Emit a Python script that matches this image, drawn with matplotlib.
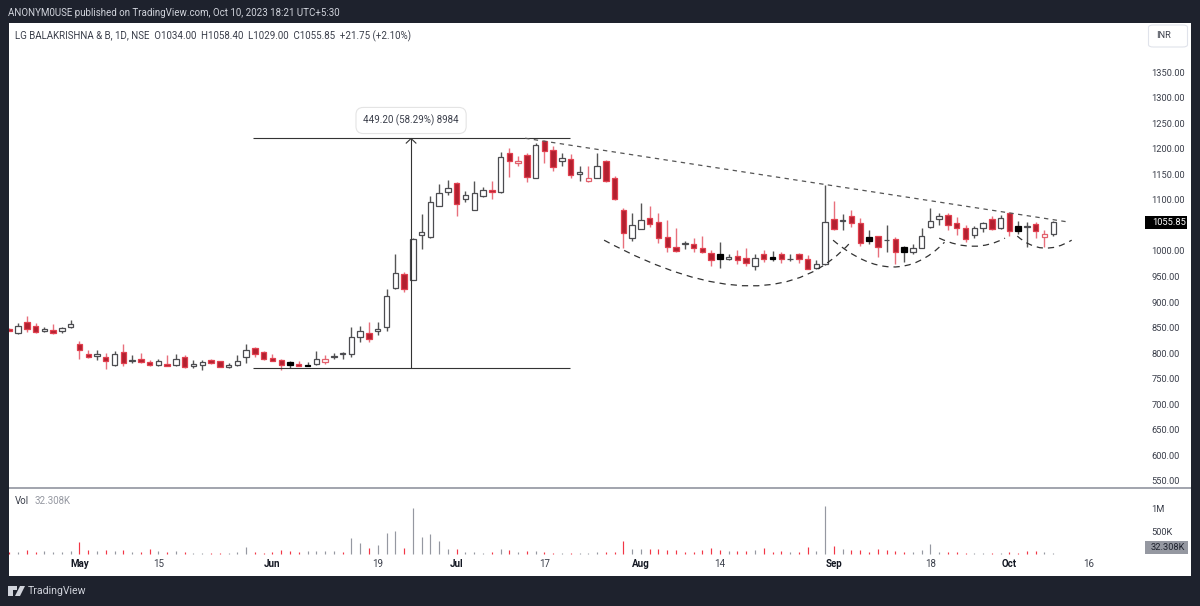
import matplotlib
matplotlib.use("Agg")
import matplotlib.pyplot as plt
from matplotlib.patches import FancyBboxPatch, PathPatch, Rectangle, Polygon
from matplotlib.path import Path

plt.rcParams['font.family'] = ['Roboto', 'DejaVu Sans']

# one row per 10 sessions, last session is 10 Oct 2023
opens = [848, 839, 860, 854, 844, 845, 843, 851, 818, 798,
         795, 792, 776, 802, 785, 789, 783, 776, 778, 777,
         792, 775, 776, 786, 784, 772, 777, 793, 810, 802,
         790, 787, 782, 778, 777, 778, 783, 792, 798, 799,
         832, 840, 844, 851, 927, 954, 944, 1032, 1027, 1088,
         1115, 1132, 1101, 1081, 1107, 1119, 1115, 1191, 1173, 1187,
         1143, 1216, 1197, 1175, 1180, 1150, 1136, 1143, 1176, 1143,
         1081, 1025, 1043, 1065, 1057, 1028, 1008, 1013, 1014, 1006,
         995, 994, 985, 991, 986, 970, 993, 989, 994, 984,
         994, 984, 967, 974, 1062, 1059, 1069, 1055, 1027, 1029,
         1021, 1023, 1007, 997, 1006, 1046, 1062, 1070, 1054, 1044,
         1032, 1044, 1062, 1044, 1075, 1049, 1047, 1053, 1027, 1034]
highs = [849, 858, 873, 858, 852, 857, 852, 864, 823, 807,
         807, 800, 804, 817, 796, 800, 787, 789, 797, 798,
         796, 787, 787, 788, 785, 780, 796, 817, 812, 805,
         798, 789, 784, 784, 783, 804, 796, 800, 803, 851,
         853, 861, 861, 925, 994, 959, 1025, 1072, 1107, 1131,
         1138, 1135, 1117, 1137, 1126, 1137, 1193, 1201, 1186, 1192,
         1212, 1218, 1206, 1192, 1189, 1166, 1167, 1192, 1178, 1147,
         1083, 1075, 1093, 1088, 1074, 1060, 1044, 1020, 1025, 1029,
         1002, 1017, 993, 1002, 1005, 994, 1002, 1000, 998, 994,
         995, 992, 982, 1129, 1098, 1072, 1080, 1064, 1041, 1030,
         1051, 1027, 1010, 1014, 1044, 1084, 1074, 1075, 1067, 1051,
         1049, 1057, 1068, 1070, 1076, 1058, 1056, 1057, 1040, 1058.4]
lows = [843, 837, 841, 840, 841, 837, 840, 850, 788, 791,
        787, 768, 775, 775, 781, 781, 775, 775, 774, 775,
        770, 771, 767, 779, 772, 771, 774, 781, 792, 787,
        784, 766, 771, 774, 774, 777, 779, 789, 788, 793,
        822, 822, 836, 844, 926, 920, 943, 1004, 1025, 1087,
        1109, 1069, 1095, 1080, 1106, 1101, 1114, 1144, 1166, 1134,
        1142, 1173, 1156, 1166, 1143, 1136, 1135, 1142, 1134, 1100,
        1005, 1020, 1042, 1046, 1016, 997, 997, 1004, 997, 995,
        971, 967, 982, 975, 971, 963, 978, 981, 976, 981,
        976, 964, 965, 973, 1040, 1040, 1047, 1010, 1014, 989,
        997, 975, 978, 993, 1005, 1045, 1051, 1041, 1032, 1018,
        1025, 1037, 1040, 1043, 1029, 1034, 1008, 1026, 1007, 1029]
closes = [844, 853, 847, 842, 847, 839, 849, 856, 807, 792,
          798, 785, 798, 781, 787, 782, 777, 785, 775, 789,
          772, 778, 782, 781, 773, 777, 785, 807, 799, 789,
          785, 776, 777, 775, 775, 789, 789, 795, 800, 831,
          844, 827, 847, 912, 957, 926, 1024, 1037, 1096, 1114,
          1124, 1092, 1110, 1113, 1119, 1116, 1184, 1176, 1175, 1144,
          1207, 1196, 1165, 1181, 1149, 1154, 1143, 1166, 1136, 1102,
          1036, 1051, 1061, 1053, 1025, 1008, 999, 1016, 1005, 997,
          982, 984, 988, 983, 976, 986, 984, 985, 984, 985,
          984, 965, 974, 1057, 1043, 1061, 1055, 1016, 1019, 1008,
          1022, 997, 998, 1006, 1030, 1058, 1068, 1051, 1044, 1024,
          1044, 1054, 1043, 1064, 1038, 1039, 1049, 1038, 1034, 1055.85]
# w = white body, r = red, h = hollow red, k = black
candle_kinds = ("rwrrwrwwrr" "wrwrwrrwrw" "rwwrrwwwrr" "rrkrkwhwww"
                "wrwwwrwwww" "wrwwwrwrhr" "wrrwrwhwrr" "rwwrrrrwrr"
                "rkwrrwrkrw" "rrwwrwrrkr" "wrkwwwwrrr" "wwrwrkwrhw")

# volume in thousands
volumes = [60, 58, 85, 45, 65, 50, 50, 65, 280, 85,
           75, 100, 75, 100, 50, 50, 120, 65, 60, 65,
           45, 35, 35, 35, 35, 30, 50, 170, 45, 35,
           45, 95, 65, 60, 65, 80, 80, 65, 60, 365,
           250, 130, 210, 470, 510, 145, 1010, 380, 450, 290,
           120, 125, 50, 45, 35, 60, 120, 85, 45, 80,
           65, 50, 35, 30, 35, 30, 35, 45, 40, 40,
           290, 115, 115, 115, 115, 100, 85, 50, 60, 95,
           140, 95, 65, 65, 80, 100, 130, 60, 65, 50,
           45, 155, 65, 1070, 175, 110, 100, 100, 50, 125,
           100, 75, 60, 60, 85, 215, 50, 45, 45, 35,
           35, 35, 35, 35, 50, 35, 75, 65, 50, 32.308]
volume_sides = ("rgrrggggrr" "grgrgrrgrg" "rggrrgggrr" "rrrrggggrg"
                "grgggrgggg" "grgggrgrgr" "grrgrgggrr" "rggrrrrrrr"
                "rrgrrgrrrg" "rrggrgrrrr" "rrrggggrrr" "ggrgrrrrgg")

# 1050.00 sits under the last price tag, so it is not listed
price_ticks = [550, 600, 650, 700, 750, 800, 850, 900, 950, 1000,
               1100, 1150, 1200, 1250, 1300, 1350]
volume_ticks = [500, 1000]
volume_tick_labels = ["500K", "1M"]
date_ticks = [8, 17, 30, 42, 51, 61, 72, 81, 94, 105, 114, 123]
date_labels = ["May", "15", "Jun", "19", "Jul", "17", "Aug", "14", "Sep", "18", "Oct", "16"]
month_labels = ["May", "Jun", "Jul", "Aug", "Sep", "Oct"]

# drawings on the chart, (session, price)
measure_low = 770.8
measure_high = 1220.0
measure_span = (27.8, 63.9)
measure_x = 45.8
trend_line = [(58.8, 1220.5), (120.7, 1056.6)]
arcs = [[(67.8, 1021), (87.0, 843), (96.0, 1019)],
        [(93.9, 1021), (101.0, 918), (106.6, 1017)],
        [(106.0, 1025), (110.0, 993), (113.5, 1025)],
        [(114.9, 1029), (117.7, 986), (121.1, 1021)]]

W, H = 1200, 606
BG = '#1e222d'
RED = '#b2202f'
RED_EDGE = '#e2404f'
DARK = '#4c4c50'
GREY_TEXT = '#3a3e4a'
FS = 7.0


def axes_rect(left, top, right, bottom):
    return [left / W, 1 - bottom / H, (right - left) / W, (bottom - top) / H]


fig = plt.figure(figsize=(12, 6.06), dpi=100, facecolor=BG)
ax = fig.add_axes(axes_rect(9, 23, 1191, 487))
ax_vol = fig.add_axes(axes_rect(9, 489, 1191, 576))
sep = fig.add_axes(axes_rect(9, 487, 1191, 489))
sep.set_facecolor('#a3a6af')
sep.set_xticks([])
sep.set_yticks([])
for s in sep.spines.values():
    s.set_visible(False)

xlim = (-0.03, 134.7)
ax.set_xlim(*xlim)
ax.set_ylim(538, 1446)
ax_vol.set_xlim(*xlim)
ax_vol.set_ylim(-478, 1435)

# candles
for i, (o, h, l, c, kind) in enumerate(zip(opens, highs, lows, closes, candle_kinds)):
    if kind == 'r':
        face, edge, wick = RED, RED_EDGE, '#e8707c'
    elif kind == 'h':
        face, edge, wick = 'white', '#e2606c', '#e8707c'
    elif kind == 'k':
        face, edge, wick = 'black', 'black', '#555555'
    else:
        face, edge, wick = 'white', DARK, '#555555'
    ax.vlines(i, l, h, color=wick, lw=1.0, zorder=2)
    ax.bar(i, max(abs(c - o), 0.5), bottom=min(o, c), width=0.62, facecolor=face,
           edgecolor=edge, linewidth=0.9, zorder=3)

# measure tool
ax.hlines([measure_low, measure_high], *measure_span, color='#333333', lw=0.8, zorder=4)
ax.vlines(measure_x, measure_low, measure_high, color='#333333', lw=0.8, zorder=4)
ax.plot([measure_x - 0.55, measure_x, measure_x + 0.55],
        [measure_high - 9, measure_high, measure_high - 9], color='#333333', lw=0.8, zorder=4)
ax.annotate("449.20 (58.29%) 8984", (measure_x, measure_high), xytext=(0, 18),
            textcoords='offset pixels', ha='center', va='center', fontsize=FS,
            color=GREY_TEXT, zorder=6,
            bbox=dict(boxstyle='round,pad=0.75', fc='white', ec='#e4e4e4', lw=0.8))

# trend line and arcs
ax.plot(*zip(*trend_line), color='#555555', lw=0.9, dashes=(3.5, 3.5), zorder=4)
for arc in arcs:
    path = Path(arc, [Path.MOVETO, Path.CURVE3, Path.CURVE3])
    ax.add_patch(PathPatch(path, fc='none', ec='#333333', lw=0.9, ls=(0, (5, 4)), zorder=4))

# volume
ax_vol.vlines(range(len(volumes)), 0, volumes, lw=0.85, snap=True,
              colors=['#f23645' if s == 'r' else '#9598a1' for s in volume_sides])

# axes
for a in (ax, ax_vol):
    a.set_facecolor('white')
    for s in a.spines.values():
        s.set_visible(False)

ax.set_xticks([])
ax.set_yticks(price_ticks)
ax.set_yticklabels([f"{p:.2f}" for p in price_ticks])
ax.yaxis.tick_right()
ax.tick_params(axis='y', length=0, pad=-28.5, labelsize=6.7, labelcolor=GREY_TEXT)
for t in ax.get_yticklabels():
    t.set_ha('left')

ax_vol.set_yticks(volume_ticks)
ax_vol.set_yticklabels(volume_tick_labels)
ax_vol.yaxis.tick_right()
ax_vol.tick_params(axis='y', length=0, pad=-28.5, labelsize=6.7, labelcolor=GREY_TEXT)
ax_vol.set_xticks(date_ticks)
ax_vol.set_xticklabels(date_labels)
ax_vol.tick_params(axis='x', length=0, direction='in', pad=-12.5, labelsize=FS, labelcolor=GREY_TEXT)
for t in ax_vol.get_xticklabels():
    if t.get_text() in month_labels:
        t.set_fontweight('bold')
        t.set_color('#131722')

# header and footer text, in figure pixels
def fig_text(x, y, s, **kw):
    kw.setdefault('va', 'center')
    return fig.text(x / W, 1 - y / H, s, **kw)


fig_text(8, 13, "ANONYM0USE published on TradingView.com, Oct 10, 2023 18:21 UTC+5:30",
         fontsize=FS, color='#d1d4dc')
fig_text(15, 36, "LG BALAKRISHNA & B, 1D, NSE  O1034.00  H1058.40  L1029.00  C1055.85  +21.75 (+2.10%)",
         fontsize=FS, color=GREY_TEXT)
fig_text(15, 501, "Vol", fontsize=FS, color=GREY_TEXT)
fig_text(35, 501, "32.308K", fontsize=FS, color='#9598a1')
fig_text(28, 591, "TradingView", fontsize=7.6, color='#d1d4dc')

# INR button and last value tags
fig.add_artist(FancyBboxPatch((1148.5 / W, 1 - 47 / H), 39 / W, 22 / H, transform=fig.transFigure,
                              boxstyle='round,pad=0,rounding_size=0.004', fc='white', ec='#e0e3eb', lw=0.8))
fig_text(1156, 36, "INR", fontsize=6.7, color=GREY_TEXT)
fig.add_artist(Rectangle((1145 / W, 1 - 229 / H), 42 / W, 13 / H, transform=fig.transFigure, fc='black'))
fig_text(1152, 222.5, "1055.85", fontsize=6.7, color='white')
fig.add_artist(Rectangle((1145 / W, 1 - 554 / H), 43 / W, 13 / H, transform=fig.transFigure, fc='#9598a1'))
fig_text(1151, 547.5, "32.308K", fontsize=6.7, color='#1e222d')

# TradingView logo
logo = '#d1d4dc'
fig.add_artist(Rectangle((8 / W, 1 - 596 / H), 5 / W, 10 / H, transform=fig.transFigure, fc=logo))
fig.add_artist(Rectangle((8 / W, 1 - 590 / H), 9 / W, 4 / H, transform=fig.transFigure, fc=logo))
fig.add_artist(Polygon([(15 / W, 1 - 596 / H), (20 / W, 1 - 596 / H), (25 / W, 1 - 586 / H), (20 / W, 1 - 586 / H)],
                       transform=fig.transFigure, fc=logo))

fig.savefig("out.png", dpi=100, facecolor=BG)
